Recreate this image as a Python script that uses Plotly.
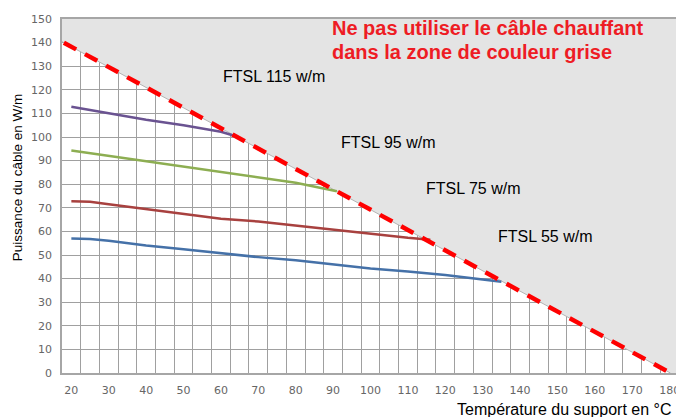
import plotly.graph_objects as go

# ---- data ----
temp_115 = [20, 30, 40, 50, 60, 64]
power_115 = [112.8, 110.0, 107.3, 105.0, 102.2, 100.3]

temp_95 = [20, 30, 40, 50, 60, 70, 80, 91]
power_95 = [94.3, 92.0, 89.8, 87.5, 85.2, 82.8, 80.6, 77.0]

temp_75 = [20, 25, 30, 40, 50, 60, 70, 80, 90, 100, 110, 116]
power_75 = [72.8, 72.6, 71.5, 69.5, 67.2, 65.4, 64.2, 62.4, 60.6, 59.0, 57.3, 56.5]

temp_55 = [20, 25, 30, 40, 50, 60, 70, 80, 90, 100, 110, 120, 130, 135]
power_55 = [57.0, 56.8, 56.0, 54.0, 52.4, 50.6, 49.1, 47.8, 46.0, 44.3, 43.0, 41.5, 39.6, 38.7]

limit_temp = [17.5, 180.2]
limit_power = [140.4, 0.0]

x_ticks = list(range(20, 181, 10))
y_ticks = list(range(0, 151, 10))

series_labels = ["FTSL 115 w/m", "FTSL 95 w/m", "FTSL 75 w/m", "FTSL 55 w/m"]
warning_lines = ["Ne pas utiliser le câble chauffant", "dans la zone de couleur grise"]

X_MIN, X_MAX = 17.5, 182.5
Y_MIN, Y_MAX = 0, 150

# the page body has an 8px margin; compensate so the plot lands where the reference has it
OFF = 8
PL, PT, PW, PH = 62, 19, 619, 354   # plot area in window pixels


def px_to_paper_x(px):
    return (px - PL) / PW


def px_to_paper_y(py):
    return (PT + PH - py) / PH


fig = go.Figure()

# gray forbidden zone
fig.add_trace(go.Scatter(
    x=[limit_temp[0], X_MIN, X_MAX, X_MAX, limit_temp[1]],
    y=[limit_power[0], Y_MAX, Y_MAX, Y_MIN, limit_power[1]],
    fill="toself", fillcolor="#e4e4e4", mode="none",
    hoverinfo="skip", showlegend=False))

# thin gray boundary
fig.add_trace(go.Scatter(x=limit_temp, y=limit_power, mode="lines",
                         line=dict(color="#b4b4b4", width=1),
                         hoverinfo="skip", showlegend=False))

colors = ["#6a5391", "#8dae52", "#a8413f", "#4571a8"]
for (tx, py), c in zip([(temp_115, power_115), (temp_95, power_95),
                        (temp_75, power_75), (temp_55, power_55)], colors):
    fig.add_trace(go.Scatter(x=tx, y=py, mode="lines",
                             line=dict(color=c, width=2.5),
                             showlegend=False))

# red dashed limit line
slope = (limit_power[1] - limit_power[0]) / (limit_temp[1] - limit_temp[0])
fig.add_trace(go.Scatter(x=[18, limit_temp[1]],
                         y=[limit_power[0] + slope * (18 - limit_temp[0]), limit_power[1]],
                         mode="lines",
                         line=dict(color="#ff0000", width=4.5, dash="14px,10px"),
                         showlegend=False))

label_pos = [(74.3, 125.8), (104.7, 97.5), (127.6, 78.0), (146.8, 58.0)]
for txt, (lx, ly) in zip(series_labels, label_pos):
    fig.add_annotation(x=lx, y=ly, xref="x", yref="y", text=txt, showarrow=False,
                       font=dict(family="Liberation Sans", size=16, color="#000000"),
                       xanchor="center", yanchor="middle")

for line_txt, cy in zip(warning_lines, [28, 52]):
    fig.add_annotation(x=px_to_paper_x(331), y=px_to_paper_y(cy), xref="paper", yref="paper",
                       text=line_txt, showarrow=False, align="left",
                       xanchor="left", yanchor="middle",
                       font=dict(family="Liberation Sans", size=20, color="#ee1c24",
                                 weight="bold"))

fig.add_annotation(x=px_to_paper_x(17), y=px_to_paper_y(178), xref="paper", yref="paper",
                   text="Puissance du câble en W/m", textangle=-90, showarrow=False,
                   xanchor="center", yanchor="middle",
                   font=dict(family="Liberation Sans", size=13.5, color="#000000"))

fig.add_annotation(x=px_to_paper_x(676), y=px_to_paper_y(409), xref="paper", yref="paper",
                   text="Température du support en °C", showarrow=False,
                   xanchor="right", yanchor="middle",
                   font=dict(family="Liberation Sans", size=16, color="#000000"))

fig.update_layout(
    width=684 - OFF, height=417 - OFF,
    margin=dict(l=PL - OFF, r=684 - PL - PW, t=PT - OFF, b=417 - PT - PH),
    paper_bgcolor="white", plot_bgcolor="white",
    xaxis=dict(range=[X_MIN, X_MAX], tickvals=x_ticks, showgrid=False,
               zeroline=False, showline=True, linecolor="#a6a6a6", linewidth=1.5,
               mirror=True, ticks="", ticklabelstandoff=6,
               tickfont=dict(family="DejaVu Sans", size=11, color="#666666"),
               minor=dict(tick0=22.5, dtick=5, showgrid=True,
                          gridcolor="#a0a0a0", gridwidth=1, ticks="")),
    yaxis=dict(range=[Y_MIN, Y_MAX], tickvals=y_ticks, showgrid=True,
               gridcolor="#a0a0a0", gridwidth=1, zeroline=False,
               showline=True, linecolor="#a6a6a6", linewidth=1.5, mirror=True,
               ticks="", ticklabelstandoff=6,
               tickfont=dict(family="DejaVu Sans", size=11, color="#666666")),
)

fig.write_html("out.html")
